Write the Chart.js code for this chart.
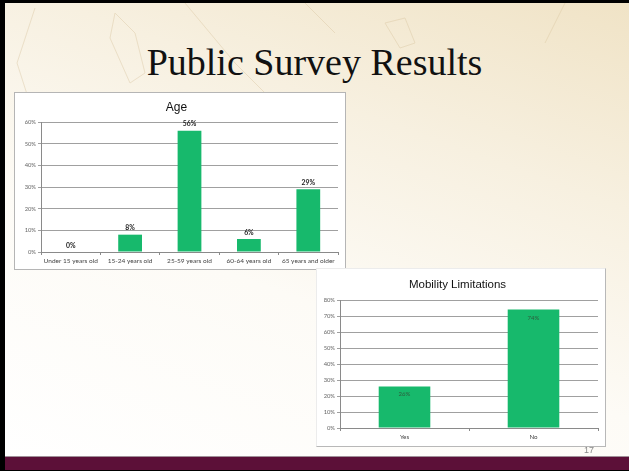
<!DOCTYPE html>
<html>
<head>
<meta charset="utf-8">
<script src="https://cdn.jsdelivr.net/npm/chart.js@4.4.1/dist/chart.umd.min.js"></script>
<style>
  html, body { margin: 0; padding: 0; }
  body { width: 629px; height: 471px; position: relative; overflow: hidden; background: #000; }
  #slide {
    position: absolute; left: 5px; top: 3px; width: 624px; height: 466px;
    background: linear-gradient(200deg, #f0e3c6 0%, #f7f0e0 30%, #fdfbf6 60%, #ffffff 100%);
    overflow: hidden;
  }
  #slide svg { position: absolute; left: 0; top: 0; }
  #title {
    position: absolute; left: 0; width: 629px; top: 40px; text-align: center;
    font-family: "Liberation Serif", serif; font-size: 38px; color: #111;
  }
  .box { position: absolute; background: #fff; }
  #ageBox { left: 14px; top: 92px; width: 330px; height: 176px; border: 1px solid #b5b5b5; }
  #mobBox { left: 316px; top: 268px; width: 288px; height: 177px; border: 1px solid #b8b8b8; border-left-color: #ececec; border-top-color: #ececec; }
  #footer { position: absolute; left: 5px; top: 456px; width: 624px; height: 13px; background: #5c1038; border-top: 1px solid #a09098; }
  #pageNum { position: absolute; left: 584px; top: 445px; font-family: "Liberation Sans", sans-serif; font-size: 9px; color: #888; }
</style>
</head>
<body>
<div id="slide">
  <svg width="624" height="466">
    <g fill="none" stroke="#d8c39c" stroke-width="1" opacity="0.4">
      <path d="M30 5 L12 60 L28 110"/>
      <path d="M110 10 L105 35 L125 80 L140 70 L130 30 Z"/>
      <path d="M180 0 L230 60 L260 90"/>
      <path d="M380 20 L400 15 L410 40 L395 45 Z"/>
      <path d="M300 0 L330 30"/>
      <path d="M560 0 L540 40"/>
    </g>
  </svg>
</div>
<div id="title">Public Survey Results</div>
<div class="box" id="ageBox"><canvas id="ageChart"></canvas></div>
<div class="box" id="mobBox"><canvas id="mobChart"></canvas></div>
<div id="footer"></div>
<div id="pageNum">17</div>

<script>
const ageLabels = ['Under 15 years old', '15-24 years old', '25-59 years old', '60-64 years old', '65 years and older'];
const ageValues = [0, 8, 56, 6, 29];
const ageMax = 60;

const mobilityLabels = ['Yes', 'No'];
const mobilityValues = [26, 74];
const mobilityMax = 80;

const barGreen = '#17b96c';
const tickFont = "'Lato', 'Open Sans', sans-serif";

// writes the value of each bar, above it or just inside its top
const barLabels = {
    id: 'barLabels',
    afterDatasetsDraw(chart, args, opts){
        const ctx = chart.ctx;
        const meta = chart.getDatasetMeta(0);
        const values = chart.data.datasets[0].data;
        ctx.save();
        ctx.font = opts.font;
        ctx.fillStyle = opts.color;
        ctx.textAlign = 'center';
        meta.data.forEach((bar, i) => {
            const text = values[i] + '%';
            if(opts.inside){
                ctx.textBaseline = 'top';
                ctx.fillText(text, bar.x, bar.y + opts.offset);
            }else{
                ctx.textBaseline = 'bottom';
                ctx.fillText(text, bar.x, bar.y - opts.offset);
            }
        });
        ctx.restore();
    }
};

function makeChart(canvas, labels, values, max, setup){
    return new Chart(canvas, {
        type: 'bar',
        data: {
            labels: labels,
            datasets: [{
                data: values,
                backgroundColor: barGreen,
                borderWidth: 0,
                barPercentage: 0.8,
                categoryPercentage: 0.5
            }]
        },
        plugins: [barLabels],
        options: {
            responsive: true,
            maintainAspectRatio: false,
            animation: false,
            layout: { padding: { left: 0, right: setup.padRight, top: 0, bottom: 0 } },
            plugins: {
                legend: { display: false },
                tooltip: { enabled: false },
                title: {
                    display: true,
                    text: setup.title,
                    color: '#111',
                    font: { family: "'Liberation Sans', Arial, sans-serif", size: setup.titleSize, weight: 'normal' },
                    padding: setup.titlePad
                },
                barLabels: setup.labels
            },
            scales: {
                x: {
                    afterFit(scale){ scale.height = setup.xHeight; },
                    border: { color: '#8a8a8a' },
                    grid: { display: true, drawOnChartArea: false, drawTicks: true, tickLength: 3, color: '#8a8a8a', offset: true },
                    ticks: { color: '#444', padding: 2, maxRotation: 0, autoSkip: false, font: { family: tickFont, size: setup.xFont } }
                },
                y: {
                    min: 0,
                    max: max,
                    afterFit(scale){ scale.width = setup.yWidth; },
                    border: { color: '#8a8a8a' },
                    grid: { color: '#a0a0a0', tickLength: 3, drawTicks: true },
                    ticks: {
                        stepSize: 10,
                        color: '#666',
                        padding: 2,
                        font: { family: tickFont, size: 5.8 },
                        callback: v => v + '%'
                    }
                }
            }
        }
    });
}

makeChart(document.getElementById('ageChart'), ageLabels, ageValues, ageMax, {
    title: 'Age',
    titleSize: 12,
    titlePad: { top: 7, bottom: 7.6 },
    padRight: 7,
    xHeight: 17,
    yWidth: 26,
    xFont: 6.5,
    labels: { font: "bold 6.8px 'Lato', sans-serif", color: '#222', offset: 3, inside: false }
});

makeChart(document.getElementById('mobChart'), mobilityLabels, mobilityValues, mobilityMax, {
    title: 'Mobility Limitations',
    titleSize: 11.5,
    titlePad: { top: 9, bottom: 8.2 },
    padRight: 7,
    xHeight: 18,
    yWidth: 23,
    xFont: 6.2,
    labels: { font: "6px 'Lato', sans-serif", color: '#2f5a3c', offset: 5, inside: true }
});
</script>
</body>
</html>
